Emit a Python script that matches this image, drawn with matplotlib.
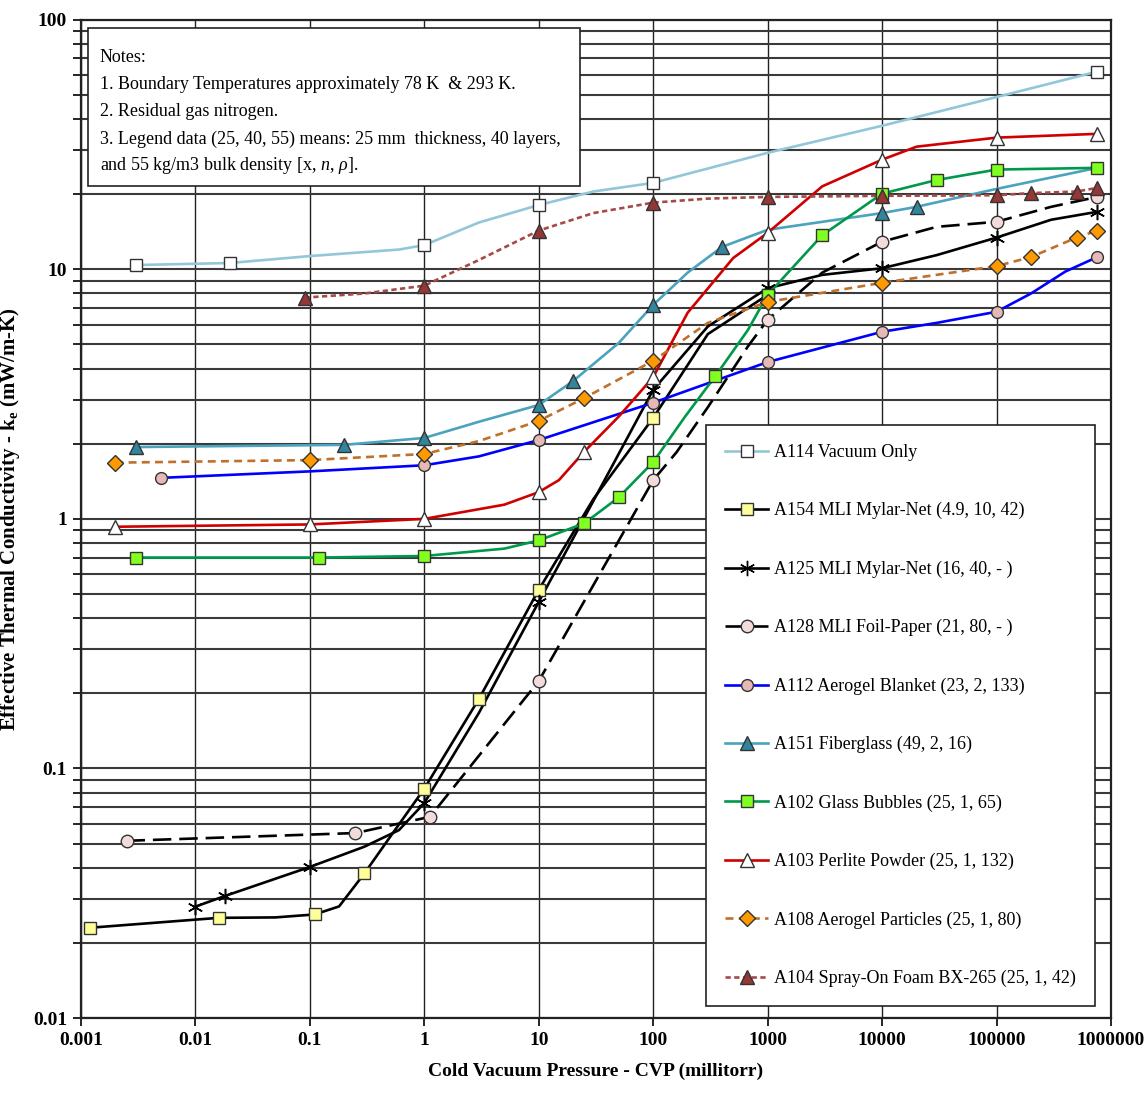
import matplotlib
matplotlib.use('Agg')
import matplotlib.pyplot as plt
from matplotlib.patches import Rectangle
from matplotlib.ticker import FixedLocator, NullFormatter

plt.rcParams['font.family'] = 'Liberation Serif'
plt.rcParams['mathtext.fontset'] = 'custom'
plt.rcParams['mathtext.rm'] = 'Liberation Serif'
plt.rcParams['mathtext.it'] = 'Liberation Serif:italic'
plt.rcParams['mathtext.bf'] = 'Liberation Serif:bold'

# ---- data (pressure in millitorr, k_e in mW/m-K) ----
# marker points / line trace for each test series
a114_mx = [0.003, 0.02, 1, 10, 100, 760000]
a114_my = [10.4, 10.6, 12.5, 18.1, 22.2, 62]
a114_cx = [0.003, 0.02, 0.1, 0.6, 1, 3, 10, 30, 100, 1000, 1e4, 1e5, 760000]
a114_cy = [10.4, 10.6, 11.3, 12.0, 12.5, 15.4, 18.1, 20.5, 22.2, 29.3, 37.6, 49, 62]

a154_mx = [0.0012, 0.016, 0.11, 0.3, 1, 3, 10, 100, 1000]
a154_my = [0.023, 0.0252, 0.026, 0.038, 0.083, 0.19, 0.52, 2.54, 7.9]
a154_cx = [0.0012, 0.016, 0.05, 0.11, 0.18, 0.3, 0.5, 1, 3, 10, 30, 100, 300, 1000]
a154_cy = [0.023, 0.0252, 0.0253, 0.026, 0.028, 0.038, 0.053, 0.083, 0.19, 0.52, 1.2, 2.54, 5.5, 7.9]

a125_mx = [0.0099, 0.018, 0.1, 1, 10, 100, 1000, 1e4, 1e5, 760000]
a125_my = [0.0279, 0.0308, 0.0403, 0.0727, 0.465, 3.29, 8.4, 10.1, 13.4, 17.0]
a125_cx = [0.0099, 0.018, 0.1, 0.3, 0.6, 1, 3, 10, 30, 100, 300, 1000, 3000, 1e4, 3e4, 1e5, 3e5, 760000]
a125_cy = [0.0279, 0.0308, 0.0403, 0.0486, 0.0566, 0.0727, 0.167, 0.465, 1.18, 3.29, 5.9, 8.4, 9.5, 10.1, 11.4, 13.4, 15.8, 17.0]

a128_mx = [0.0025, 0.25, 1.12, 10, 100, 1000, 1e4, 1e5, 760000]
a128_my = [0.0513, 0.0551, 0.064, 0.224, 1.43, 6.28, 12.9, 15.5, 19.5]
a128_cx = [0.0025, 0.25, 1.12, 10, 100, 160, 300, 670, 1000, 3000, 1e4, 3e4, 1e5, 3e5, 760000]
a128_cy = [0.0513, 0.0551, 0.064, 0.224, 1.43, 1.85, 2.8, 4.9, 6.28, 9.7, 12.9, 14.8, 15.5, 17.8, 19.5]

a112_mx = [0.005, 1, 10, 100, 1000, 1e4, 1e5, 760000]
a112_my = [1.46, 1.64, 2.07, 2.92, 4.25, 5.62, 6.76, 11.2]
a112_cx = [0.005, 0.1, 1, 3, 10, 100, 1000, 1e4, 3e4, 1e5, 2e5, 4e5, 760000]
a112_cy = [1.46, 1.55, 1.64, 1.78, 2.07, 2.92, 4.25, 5.62, 6.1, 6.76, 8.0, 9.8, 11.2]

a151_mx = [0.003, 0.2, 1, 10, 20, 100, 400, 1e4, 2e4]
a151_my = [1.94, 1.98, 2.11, 2.86, 3.57, 7.2, 12.3, 16.8, 17.8]
a151_cx = [0.003, 0.2, 1, 3, 10, 20, 50, 100, 200, 400, 1000, 1e4, 2e4, 1e5, 760000]
a151_cy = [1.94, 1.98, 2.11, 2.45, 2.86, 3.57, 5.07, 7.2, 9.7, 12.3, 14.4, 16.8, 17.8, 21, 25.5]

a102_mx = [0.003, 0.12, 1, 10, 25, 50, 100, 350, 1000, 3000, 1e4, 3e4, 1e5, 760000]
a102_my = [0.70, 0.70, 0.71, 0.82, 0.96, 1.22, 1.69, 3.74, 7.9, 13.7, 20.1, 22.8, 25.1, 25.5]
a102_cx = [0.003, 0.12, 1, 5, 10, 25, 50, 100, 190, 350, 670, 1000, 3000, 1e4, 3e4, 1e5, 760000]
a102_cy = [0.70, 0.70, 0.71, 0.76, 0.82, 0.96, 1.22, 1.69, 2.57, 3.74, 5.7, 7.9, 13.7, 20.1, 22.8, 25.1, 25.5]

a103_mx = [0.002, 0.1, 1, 10, 25, 100, 1000, 1e4, 1e5, 760000]
a103_my = [0.93, 0.95, 1.0, 1.28, 1.86, 3.7, 14.0, 27.5, 33.7, 34.9]
a103_cx = [0.002, 0.1, 1, 5, 10, 15, 25, 50, 100, 200, 500, 1000, 3000, 1e4, 2e4, 1e5, 760000]
a103_cy = [0.93, 0.95, 1.0, 1.14, 1.28, 1.43, 1.86, 2.57, 3.7, 6.7, 11.1, 14.0, 21.5, 27.5, 31, 33.7, 34.9]

a108_mx = [0.002, 0.1, 1, 10, 25, 100, 1000, 1e4, 1e5, 2e5, 5e5, 760000]
a108_my = [1.68, 1.72, 1.82, 2.47, 3.05, 4.3, 7.4, 8.83, 10.3, 11.2, 13.4, 14.3]
a108_cx = [0.002, 0.1, 1, 3, 10, 25, 100, 300, 1000, 1e4, 1e5, 2e5, 5e5, 760000]
a108_cy = [1.68, 1.72, 1.82, 2.05, 2.47, 3.05, 4.3, 6.1, 7.4, 8.83, 10.3, 11.2, 13.4, 14.3]

a104_mx = [0.09, 1, 10, 100, 1000, 1e4, 1e5, 2e5, 5e5, 760000]
a104_my = [7.7, 8.6, 14.3, 18.5, 19.5, 19.7, 19.8, 20.2, 20.5, 21.2]
a104_cx = [0.09, 0.3, 1, 3, 10, 30, 100, 300, 1000, 1e4, 1e5, 2e5, 5e5, 760000]
a104_cy = [7.7, 8.0, 8.6, 10.9, 14.3, 16.8, 18.5, 19.2, 19.5, 19.7, 19.8, 20.2, 20.5, 21.2]

labels = ['A114 Vacuum Only',
          'A154 MLI Mylar-Net (4.9, 10, 42)',
          'A125 MLI Mylar-Net (16, 40, - )',
          'A128 MLI Foil-Paper (21, 80, - )',
          'A112 Aerogel Blanket (23, 2, 133)',
          'A151 Fiberglass (49, 2, 16)',
          'A102 Glass Bubbles (25, 1, 65)',
          'A103 Perlite Powder (25, 1, 132)',
          'A108 Aerogel Particles (25, 1, 80)',
          'A104 Spray-On Foam BX-265 (25, 1, 42)']

x_ticks = [0.001, 0.01, 0.1, 1, 10, 100, 1000, 10000, 100000, 1000000]
x_ticklabels = ['0.001', '0.01', '0.1', '1', '10', '100', '1000', '10000', '100000', '1000000']
y_ticks = [0.01, 0.1, 1, 10, 100]
y_ticklabels = ['0.01', '0.1', '1', '10', '100']

notes = ['Notes:',
         '1. Boundary Temperatures approximately 78 K  & 293 K.',
         '2. Residual gas nitrogen.',
         '3. Legend data (25, 40, 55) means: 25 mm  thickness, 40 layers,',
         r'and 55 kg/m3 bulk density [x, $n$, $\rho$].']

# styles: (line colour, linestyle, marker, marker face, marker size)
styles = [
    ('#93C6D8', '-', 's', 'white', 8.5),
    ('black', '-', 's', '#FFFF99', 8.5),
    ('black', '-', (6, 2, 0), 'none', 11),
    ('black', (0, (7, 3)), 'o', '#F2DCDB', 9),
    ('#0000FF', '-', 'o', '#E6B9B8', 8.5),
    ('#4BA3BE', '-', '^', '#31859C', 9.5),
    ('#00994C', '-', 's', '#80FF20', 8.5),
    ('#D00000', '-', '^', 'white', 10),
    ('#C0702A', (0, (3, 2)), 'D', '#FF9900', 8),
    ('#A84848', (0, (2, 1.3)), '^', '#953735', 10),
]

series = [
    (a114_cx, a114_cy, a114_mx, a114_my),
    (a154_cx, a154_cy, a154_mx, a154_my),
    (a125_cx, a125_cy, a125_mx, a125_my),
    (a128_cx, a128_cy, a128_mx, a128_my),
    (a112_cx, a112_cy, a112_mx, a112_my),
    (a151_cx, a151_cy, a151_mx, a151_my),
    (a102_cx, a102_cy, a102_mx, a102_my),
    (a103_cx, a103_cy, a103_mx, a103_my),
    (a108_cx, a108_cy, a108_mx, a108_my),
    (a104_cx, a104_cy, a104_mx, a104_my),
]

fig = plt.figure(figsize=(11.47, 10.97), dpi=100)
ax = fig.add_axes([0.0706, 0.072, 0.898, 0.91])
ax.set_xscale('log')
ax.set_yscale('log')
ax.set_xlim(0.001, 1000000)
ax.set_ylim(0.01, 100)

handles = []
for (cx, cy, mx, my), lab, (col, ls, mk, mfc, ms) in zip(series, labels, styles):
    ax.plot(cx, cy, color=col, linestyle=ls, linewidth=1.9, zorder=3)
    if mfc == 'none':
        ax.plot(mx, my, linestyle='none', marker=mk, markersize=ms,
                markeredgecolor='black', markeredgewidth=1.1, zorder=4)
    else:
        ax.plot(mx, my, linestyle='none', marker=mk, markersize=ms,
                markerfacecolor=mfc, markeredgecolor='#333333',
                markeredgewidth=1.0, zorder=4)
    h, = ax.plot([], [], color=col, linestyle=ls, linewidth=1.9, marker=mk,
                 markersize=ms, markerfacecolor=mfc if mfc != 'none' else 'black',
                 markeredgecolor='black' if mfc == 'none' else '#333333',
                 markeredgewidth=1.0, label=lab)
    handles.append(h)

# grid: every decade vertically, every minor step horizontally
ax.set_xticks(x_ticks, x_ticklabels)
ax.xaxis.set_minor_locator(FixedLocator([]))
ax.set_yticks(y_ticks, y_ticklabels)
y_minor = [m * 10.0 ** e for e in range(-2, 2) for m in range(2, 10)]
ax.yaxis.set_minor_locator(FixedLocator(y_minor))
ax.yaxis.set_minor_formatter(NullFormatter())
ax.grid(True, which='major', axis='x', color='#222222', linewidth=1.0)
ax.grid(True, which='both', axis='y', color='#3a3a3a', linewidth=1.5)
ax.set_axisbelow(True)

ax.tick_params(axis='both', which='major', direction='out', length=6, width=1.2,
               labelsize=14, pad=4)
ax.tick_params(axis='y', which='minor', direction='out', length=6, width=1.2)
for lbl in ax.get_xticklabels() + ax.get_yticklabels():
    lbl.set_fontweight('bold')
for sp in ax.spines.values():
    sp.set_linewidth(1.6)
    sp.set_color('#222222')

ax.set_xlabel('Cold Vacuum Pressure - CVP (millitorr)', fontsize=14,
              fontweight='bold', labelpad=10)
ax.set_ylabel(r'Effective Thermal Conductivity - k$_\mathbf{e}$ (mW/m-K)',
              fontsize=15, fontweight='bold', labelpad=8)

# notes box
ax.add_patch(Rectangle((0.0068, 0.833), 0.478, 0.159, transform=ax.transAxes,
                       facecolor='white', edgecolor='#222222', linewidth=1.2,
                       zorder=5))
for i, line in enumerate(notes):
    ax.text(0.0184, 0.9619 - i * 0.0271, line, transform=ax.transAxes,
            fontsize=13, va='center', ha='left', zorder=6)

leg = ax.legend(handles=handles, loc='upper left', bbox_to_anchor=(0.607, 0.594),
                fontsize=13, frameon=True, fancybox=False, edgecolor='#222222',
                framealpha=1, labelspacing=2.28, handlelength=2.4,
                handletextpad=0.3, borderpad=1.05, borderaxespad=0, numpoints=1)
leg.get_frame().set_linewidth(1.2)
leg.set_zorder(7)

fig.savefig('out.png', dpi=100)
